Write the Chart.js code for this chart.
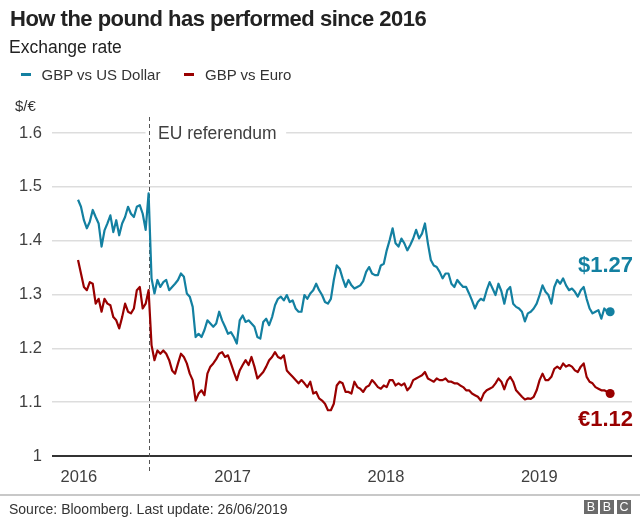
<!DOCTYPE html>
<html>
<head>
<meta charset="utf-8">
<script src="https://cdn.jsdelivr.net/npm/chart.js@4.4.1/dist/chart.umd.min.js"></script>
<style>
    body { margin: 0; background: #fff; font-family: 'Liberation Sans', Arial, Helvetica, sans-serif; }
    #wrap { position: relative; width: 640px; height: 520px; overflow: hidden; }
    #chart { position: absolute; left: 0; top: 0; }
    .t { position: absolute; line-height: 1; white-space: nowrap; color: #222; }
    .title { left: 10px; top: 8px; font-size: 22px; font-weight: bold; letter-spacing: -0.5px; }
    .sub { left: 9px; top: 38.5px; font-size: 17.5px; }
    .leg { top: 67px; font-size: 15px; color: #333; }
    .dash { position: absolute; top: 73px; width: 10px; height: 2.5px; }
    .unit { left: 15px; top: 98px; font-size: 15px; color: #333; }
    .rule { position: absolute; left: 0; top: 494px; width: 640px; height: 2px; background: #c8c8c8; }
    .src { left: 9px; top: 501.5px; font-size: 14px; color: #333; }
    .bbc { position: absolute; top: 499.5px; width: 14px; height: 14px; background: #6b6b6b; color: #fff;
           font-size: 12.5px; line-height: 14px; text-align: center; }
</style>
</head>
<body>
<div id="wrap">
    <canvas id="chart" width="640" height="520"></canvas>
    <div class="t title">How the pound has performed since 2016</div>
    <div class="t sub">Exchange rate</div>
    <div class="dash" style="left:21px;background:#1380A1"></div>
    <div class="t leg" style="left:41.5px">GBP vs US Dollar</div>
    <div class="dash" style="left:184px;background:#990000"></div>
    <div class="t leg" style="left:205px">GBP vs Euro</div>
    <div class="t unit">$/€</div>
    <div class="rule"></div>
    <div class="t src">Source: Bloomberg. Last update: 26/06/2019</div>
    <div class="bbc" style="left:584px">B</div>
    <div class="bbc" style="left:600px">B</div>
    <div class="bbc" style="left:617px">C</div>
</div>
<script>
// Weekly closes (Wednesdays), 6 Jan 2016 to 26 Jun 2019
const firstDate = '2016-01-06';
const stepDays = 7;

const usdValues = [
    1.476, 1.463, 1.438, 1.423, 1.435, 1.457, 1.444, 1.432, 1.389, 1.419,
    1.432, 1.447, 1.416, 1.438, 1.41, 1.432, 1.444, 1.463, 1.45, 1.444,
    1.463, 1.466, 1.45, 1.42, 1.488, 1.33, 1.302, 1.327, 1.314, 1.323,
    1.327, 1.308, 1.314, 1.32, 1.327, 1.339, 1.333, 1.302, 1.296, 1.277,
    1.221, 1.227, 1.221, 1.234, 1.252, 1.246, 1.24, 1.246, 1.268, 1.252,
    1.24, 1.227, 1.23, 1.221, 1.209, 1.252, 1.261, 1.249, 1.252, 1.246,
    1.24, 1.221, 1.218, 1.249, 1.255, 1.243, 1.258, 1.28, 1.292, 1.296,
    1.289, 1.299, 1.286, 1.289, 1.274, 1.268, 1.268, 1.299, 1.292, 1.302,
    1.308, 1.32, 1.308, 1.299, 1.286, 1.283, 1.292, 1.327, 1.354, 1.348,
    1.33, 1.314, 1.327, 1.317, 1.311, 1.314, 1.317, 1.325, 1.342, 1.351,
    1.339, 1.336, 1.336, 1.354, 1.357, 1.382, 1.401, 1.423, 1.395, 1.389,
    1.404, 1.395, 1.382, 1.392, 1.404, 1.42, 1.404, 1.413, 1.432, 1.395,
    1.364, 1.354, 1.351, 1.342, 1.33, 1.339, 1.339, 1.32, 1.314, 1.327,
    1.32, 1.314, 1.314, 1.302, 1.289, 1.274, 1.286, 1.292, 1.289, 1.308,
    1.323, 1.311, 1.299, 1.32, 1.306, 1.283, 1.308, 1.314, 1.283, 1.277,
    1.274, 1.268, 1.25, 1.265, 1.268, 1.274, 1.283, 1.299, 1.317, 1.305,
    1.299, 1.283, 1.314, 1.327, 1.32, 1.33, 1.317, 1.308, 1.311, 1.305,
    1.296, 1.308, 1.314, 1.292, 1.274, 1.265, 1.268, 1.271, 1.255, 1.274,
    1.268, 1.268
];

const eurValues = [
    1.364, 1.339, 1.314, 1.308, 1.323, 1.32, 1.283, 1.292, 1.268, 1.292,
    1.283, 1.28, 1.258, 1.252, 1.237, 1.258, 1.283, 1.268, 1.265, 1.274,
    1.308, 1.314, 1.274, 1.283, 1.308, 1.206, 1.178, 1.196, 1.19, 1.196,
    1.19, 1.178, 1.159, 1.153, 1.172, 1.19, 1.184, 1.172, 1.153, 1.141,
    1.103, 1.116, 1.122, 1.113, 1.153, 1.166, 1.172, 1.18, 1.19, 1.193,
    1.184, 1.187, 1.172, 1.156, 1.141, 1.159, 1.169, 1.178, 1.169, 1.184,
    1.166, 1.144, 1.15, 1.156, 1.166, 1.178, 1.184, 1.193, 1.184, 1.181,
    1.187, 1.159, 1.153, 1.147, 1.141, 1.135, 1.141, 1.135, 1.128, 1.138,
    1.116, 1.119, 1.107, 1.103, 1.097, 1.085, 1.085, 1.097, 1.131, 1.138,
    1.135, 1.119, 1.119, 1.116, 1.138, 1.128, 1.125, 1.119, 1.128, 1.131,
    1.141, 1.135, 1.128, 1.125, 1.131, 1.128, 1.141, 1.141, 1.131, 1.135,
    1.131, 1.135, 1.122, 1.128, 1.141, 1.144, 1.147, 1.15, 1.156, 1.144,
    1.141, 1.138, 1.144, 1.141, 1.141, 1.144, 1.138, 1.138, 1.135, 1.135,
    1.131, 1.128, 1.122, 1.122, 1.116, 1.113, 1.11, 1.103, 1.116, 1.122,
    1.125, 1.128, 1.135, 1.144, 1.138, 1.124, 1.14, 1.147, 1.138, 1.122,
    1.116, 1.11, 1.105, 1.107, 1.106, 1.11, 1.122, 1.141, 1.153, 1.141,
    1.141, 1.147, 1.162, 1.166, 1.162, 1.172, 1.166, 1.169, 1.166, 1.159,
    1.156, 1.166, 1.172, 1.147, 1.138, 1.135, 1.128, 1.125, 1.122, 1.122,
    1.119, 1.116
];

const seriesNames = ['GBP vs US Dollar', 'GBP vs Euro'];
const seriesColors = ['#1380A1', '#990000'];
const endLabels = ['$1.27', '€1.12'];

const yearTicks = ['2016-01-01', '2017-01-01', '2018-01-01', '2019-01-01'];
const yearLabels = ['2016', '2017', '2018', '2019'];
const yTickLabels = ['1', '1.1', '1.2', '1.3', '1.4', '1.5', '1.6'];

const referendumDate = '2016-06-23';
const referendumLabel = 'EU referendum';

const xMin = '2015-11-05';
const xMax = '2019-08-17';

const DAY = 86400000;
const FONT = "'Liberation Sans', Arial, Helvetica, sans-serif";

function toPoints(values) {
    const t0 = Date.parse(firstDate);
    return values.map((v, i) => ({ x: t0 + i * stepDays * DAY, y: v }));
}

// Linha tracejada do referendo e rótulos finais
const annotations = {
    id: 'annotations',
    beforeDatasetsDraw(chart) {
        const { ctx, chartArea, scales } = chart;
        const x = Math.round(scales.x.getPixelForValue(Date.parse(referendumDate))) + 0.5;
        ctx.save();
        ctx.font = '17.5px ' + FONT;
        const w = ctx.measureText(referendumLabel).width;
        ctx.fillStyle = '#fff';
        ctx.fillRect(x - 4, chartArea.top - 8, w + 22, 16);
        ctx.strokeStyle = '#555';
        ctx.lineWidth = 1;
        ctx.setLineDash([4, 3]);
        ctx.beginPath();
        ctx.moveTo(x, chartArea.top - 16);
        ctx.lineTo(x, chartArea.bottom + 17);
        ctx.stroke();
        ctx.setLineDash([]);
        ctx.fillStyle = '#404040';
        ctx.textBaseline = 'alphabetic';
        ctx.fillText(referendumLabel, x + 8.5, chartArea.top + 6);
        ctx.restore();
    },
    afterDatasetsDraw(chart) {
        const { ctx, chartArea } = chart;
        const offsets = [-40, 32];
        ctx.save();
        ctx.font = 'bold 22px ' + FONT;
        ctx.textAlign = 'right';
        ctx.textBaseline = 'alphabetic';
        chart.data.datasets.forEach((ds, i) => {
            const meta = chart.getDatasetMeta(i);
            const last = meta.data[meta.data.length - 1];
            ctx.fillStyle = seriesColors[i];
            ctx.fillText(endLabels[i], chartArea.right + 1, last.y + offsets[i]);
        });
        ctx.restore();
    }
};

const lastRadius = (c) => c.dataIndex === c.dataset.data.length - 1 ? 4.5 : 0;

new Chart(document.getElementById('chart'), {
    type: 'line',
    data: {
        datasets: [
            { label: seriesNames[0], data: toPoints(usdValues), borderColor: seriesColors[0], backgroundColor: seriesColors[0] },
            { label: seriesNames[1], data: toPoints(eurValues), borderColor: seriesColors[1], backgroundColor: seriesColors[1] }
        ]
    },
    options: {
        responsive: false,
        animation: false,
        layout: { padding: { top: 133, right: 8, left: 0, bottom: 0 } },
        elements: {
            line: { borderWidth: 2.2, tension: 0, borderJoinStyle: 'round' },
            point: { radius: lastRadius, hoverRadius: lastRadius, borderWidth: 0 }
        },
        plugins: { legend: { display: false }, tooltip: { enabled: false } },
        scales: {
            x: {
                type: 'linear',
                min: Date.parse(xMin),
                max: Date.parse(xMax),
                afterFit: (s) => { s.height = 64; },
                afterBuildTicks: (s) => { s.ticks = yearTicks.map(d => ({ value: Date.parse(d) })); },
                grid: { display: false },
                border: { display: false },
                ticks: {
                    callback: (v, i) => yearLabels[i],
                    font: { family: FONT, size: 16.5 },
                    color: '#404040',
                    padding: 4,
                    labelOffset: 3,
                    maxRotation: 0,
                    autoSkip: false
                }
            },
            y: {
                min: 1,
                max: 1.6,
                afterFit: (s) => { s.width = 52; },
                grid: {
                    drawTicks: false,
                    color: (c) => c.index === 0 ? '#333333' : '#dddddd',
                    lineWidth: (c) => c.index === 0 ? 2 : 1.5
                },
                border: { display: false },
                ticks: {
                    stepSize: 0.1,
                    callback: (v, i) => yTickLabels[i],
                    font: { family: FONT, size: 16.5 },
                    color: '#404040',
                    padding: 10
                }
            }
        }
    },
    plugins: [annotations]
});
</script>
</body>
</html>
